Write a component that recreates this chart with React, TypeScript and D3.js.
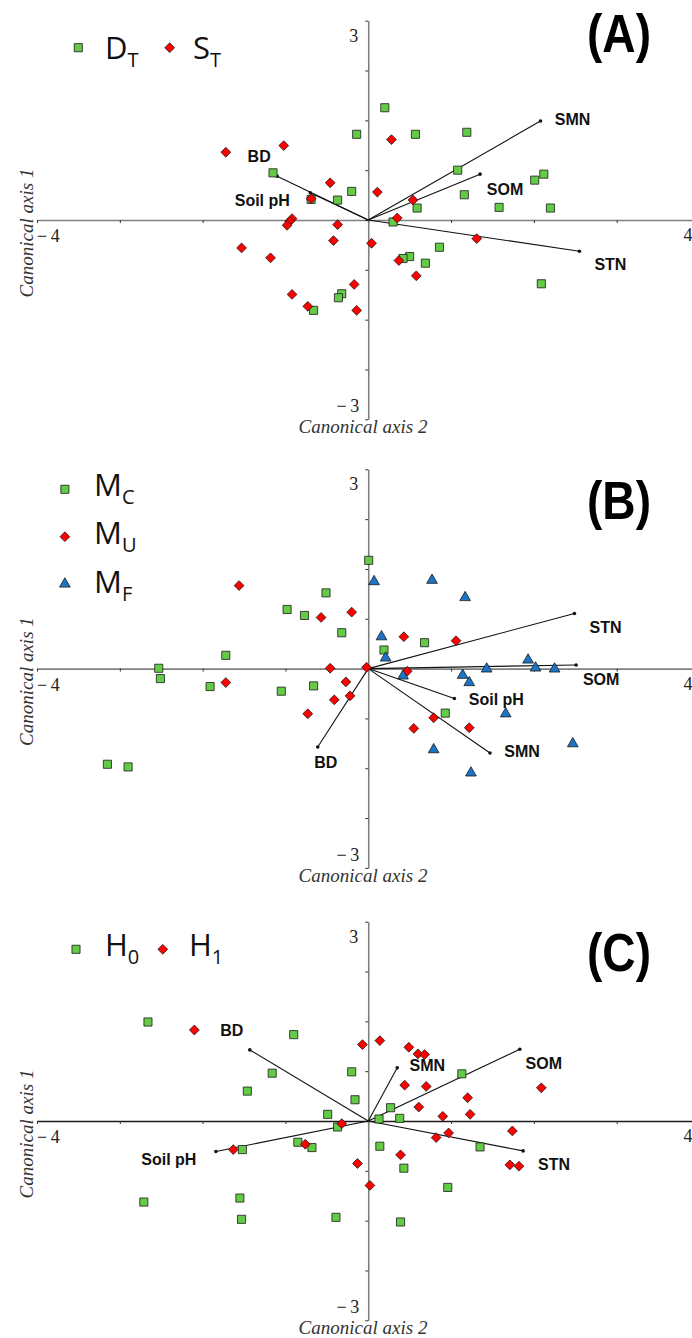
import React, { useEffect, useRef } from "react";
import * as d3 from "d3";

// (A) tillage: D_T vs S_T  — [canonical axis 2, canonical axis 1]
const aDT: [number, number][] = [
  [0.2, 1.69], [-0.14, 1.29], [0.57, 1.29], [1.19, 1.32], [-1.15, 0.71], [1.08, 0.75],
  [2.01, 0.6], [2.12, 0.69], [-0.2, 0.43], [-0.37, 0.3], [-0.69, 0.31], [1.16, 0.38],
  [0.59, 0.18], [1.58, 0.19], [2.2, 0.18], [0.3, -0.03], [0.86, -0.41], [0.5, -0.55],
  [0.42, -0.58], [0.69, -0.65], [2.09, -0.96], [-0.32, -1.11], [-0.36, -1.17], [-0.66, -1.36],
];
const aST: [number, number][] = [
  [-1.72, 1.02], [-1.02, 1.12], [0.28, 1.21], [-0.46, 0.56], [0.11, 0.42], [-0.69, 0.32],
  [0.54, 0.3], [-0.92, 0.02], [-0.95, -0.02], [-0.98, -0.08], [-0.37, -0.07], [0.35, 0.03],
  [-0.42, -0.31], [0.04, -0.35], [1.31, -0.28], [-1.53, -0.42], [-1.18, -0.57], [0.37, -0.61],
  [0.58, -0.84], [-0.17, -0.97], [-0.92, -1.12], [-0.73, -1.3], [-0.14, -1.36],
];
const aVectors = [
  { name: "SMN", x: 2.08, y: 1.49 },
  { name: "SOM", x: 1.35, y: 0.69 },
  { name: "STN", x: 2.55, y: -0.47 },
  { name: "BD", x: -1.1, y: 0.66 },
  { name: "Soil pH", x: -0.7, y: 0.41 },
];

// (B) M_C, M_U, M_F
const bMC: [number, number][] = [
  [0.005, 1.63], [-0.51, 1.14], [-0.98, 0.89], [-0.77, 0.8], [-0.32, 0.54], [0.68, 0.39],
  [0.19, 0.28], [-1.72, 0.2], [-2.53, 0.005], [-2.51, -0.15], [-1.91, -0.27], [-1.05, -0.34],
  [-0.66, -0.26], [0.93, -0.67], [-3.15, -1.44], [-2.9, -1.48],
];
const bMU: [number, number][] = [
  [-1.56, 1.25], [-0.2, 0.85], [-0.57, 0.77], [0.43, 0.48], [1.06, 0.42], [-0.46, 0.005],
  [-0.02, 0.02], [0.47, -0.04], [-1.72, -0.21], [-0.27, -0.2], [-0.41, -0.47], [-0.22, -0.41],
  [-0.73, -0.68], [0.79, -0.74], [0.55, -0.9], [1.22, -0.89],
];
const bMF: [number, number][] = [
  [0.07, 1.31], [0.77, 1.33], [1.17, 1.07], [0.16, 0.48], [0.21, 0.16], [1.93, 0.13],
  [2.02, 0.01], [2.25, -0.005], [1.43, -0.005], [0.42, -0.11], [1.14, -0.1], [1.22, -0.21],
  [1.66, -0.68], [2.47, -1.13], [0.79, -1.22], [1.24, -1.57],
];
const bVectors = [
  { name: "STN", x: 2.49, y: 0.83 },
  { name: "SOM", x: 2.51, y: 0.055 },
  { name: "Soil pH", x: 1.04, y: -0.45 },
  { name: "SMN", x: 1.47, y: -1.27 },
  { name: "BD", x: -0.61, y: -1.18 },
];

// (C) H_0 vs H_1
const cH0: [number, number][] = [
  [-2.66, 1.49], [-0.9, 1.3], [-1.16, 0.72], [-0.2, 0.74], [1.13, 0.71], [-1.46, 0.45],
  [-0.16, 0.32], [0.27, 0.2], [-0.49, 0.1], [0.13, 0.03], [0.38, 0.04], [-0.37, -0.09],
  [-0.85, -0.32], [-0.68, -0.4], [-1.52, -0.43], [0.14, -0.38], [1.35, -0.39], [0.43, -0.71],
  [0.96, -1.0], [-2.71, -1.22], [-1.55, -1.16], [-1.53, -1.48], [-0.39, -1.45], [0.39, -1.52],
];
const cH1: [number, number][] = [
  [-2.1, 1.37], [-0.07, 1.15], [0.14, 1.21], [0.49, 1.11], [0.6, 1.01], [0.68, 1.0],
  [0.44, 0.54], [0.7, 0.52], [2.09, 0.5], [1.2, 0.35], [0.61, 0.21], [0.9, 0.07],
  [1.23, 0.1], [-0.32, -0.04], [1.74, -0.15], [0.97, -0.18], [0.82, -0.25], [-1.63, -0.43],
  [-0.76, -0.35], [0.39, -0.51], [-0.13, -0.64], [1.71, -0.66], [1.82, -0.68], [0.02, -0.97],
];
const cVectors = [
  { name: "BD", x: -1.43, y: 1.07 },
  { name: "SMN", x: 0.35, y: 0.8 },
  { name: "SOM", x: 1.83, y: 1.08 },
  { name: "STN", x: 1.87, y: -0.45 },
  { name: "Soil pH", x: -1.84, y: -0.46 },
];

const xTicks = d3.range(-4, 5);
const yTicks = d3.range(-12, 13, 3).map((v) => v / 4);

const COLORS = { square: "#63cb45", diamond: "#ff0000", triangle: "#1c74c6" };

// layout for each panel (pixel positions)
const panels = [
  {
    tag: "(A)", top: 20.7, tagBaseline: 52, xAxisColor: "#808080",
    series: [{ data: aDT, symbol: "square" }, { data: aST, symbol: "diamond" }],
    vectors: aVectors,
    labelOffset: { SMN: [32, -2], SOM: [25, 15], STN: [31, 13], BD: [-18, -20], "Soil pH": [-48, 8] },
    legend: [
      { symbol: "square", main: "D", sub: "T", mx: 78.3, my: 47.7, tx: 105, ty: 58.5 },
      { symbol: "diamond", main: "S", sub: "T", mx: 169.7, my: 47.7, tx: 193, ty: 58.5 },
    ],
  },
  {
    tag: "(B)", top: 469.3, tagBaseline: 519, xAxisColor: "#808080",
    series: [
      { data: bMC, symbol: "square" },
      { data: bMU, symbol: "diamond" },
      { data: bMF, symbol: "triangle" },
    ],
    vectors: bVectors,
    labelOffset: { STN: [31, 14], SOM: [25, 15], "Soil pH": [42, 1], SMN: [32, -1], BD: [8, 16] },
    legend: [
      { symbol: "square", main: "M", sub: "C", mx: 64.9, my: 489.3, tx: 94, ty: 495.5 },
      { symbol: "diamond", main: "M", sub: "U", mx: 64.9, my: 536.7, tx: 94, ty: 543.5 },
      { symbol: "triangle", main: "M", sub: "F", mx: 64.9, my: 584, tx: 94, ty: 593 },
    ],
  },
  {
    tag: "(C)", top: 921.7, tagBaseline: 971, xAxisColor: "#1a1a1a",
    series: [{ data: cH0, symbol: "square" }, { data: cH1, symbol: "diamond" }],
    vectors: cVectors,
    labelOffset: { BD: [-18, -19], SMN: [30, -2], SOM: [24, 14], STN: [31, 14], "Soil pH": [-47, 8] },
    legend: [
      { symbol: "square", main: "H", sub: "0", mx: 76, my: 949.3, tx: 105, ty: 955.5 },
      { symbol: "diamond", main: "H", sub: "1", mx: 162.8, my: 949.3, tx: 189, ty: 955.5 },
    ],
  },
];

const symbolPaths: Record<string, string> = {
  square: d3.symbol().type(d3.symbolSquare).size(66)() as string,
  diamond: "M0,-4.9L4.9,0L0,4.9L-4.9,0Z",
  triangle: d3.symbol().type(d3.symbolTriangle).size(50)() as string,
};

export default function App() {
  const svgRef = useRef<SVGSVGElement>(null);

  useEffect(() => {
    const svg = d3.select(svgRef.current);
    svg.selectAll("*").remove();

    const serif = "'Liberation Serif', 'Times New Roman', serif";
    const sans = "'Liberation Sans', Arial, sans-serif";

    panels.forEach((p) => {
      const x = d3.scaleLinear().domain([-4, 4]).range([37, 699.5]);
      const y = d3.scaleLinear().domain([-3, 3]).range([p.top + 398.6, p.top]);
      const g = svg.append("g");

      // axes through the origin
      const xa = g
        .append("g")
        .attr("transform", `translate(0,${y(0)})`)
        .call(d3.axisBottom(x).tickValues(xTicks).tickSize(3).tickSizeOuter(0).tickFormat(() => ""));
      xa.select(".domain").attr("stroke", p.xAxisColor).attr("stroke-width", 1.6);
      xa.selectAll(".tick line").attr("stroke", "#333").attr("stroke-width", 1);

      const ya = g
        .append("g")
        .attr("transform", `translate(${x(0)},0)`)
        .call(d3.axisLeft(y).tickValues(yTicks).tickSize(3).tickSizeOuter(0).tickFormat(() => ""));
      ya.select(".domain").attr("stroke", "#808080").attr("stroke-width", 1.6);
      ya.selectAll(".tick line").attr("stroke", "#333").attr("stroke-width", 1);

      // end labels
      const endLabel = (tx: number, ty: number, t: string, anchor: string) =>
        g.append("text").attr("x", tx).attr("y", ty).attr("text-anchor", anchor)
          .attr("font-family", serif).attr("font-size", 18).attr("fill", "#222").text(t);
      endLabel(x(0) - 10, y(3) + 21, "3", "end");
      endLabel(x(0) - 9, y(-3) - 7, "\u2212\u20093", "end");
      endLabel(x(-4), y(0) + 22, "\u2212\u20094", "start");
      endLabel(x(4) - 16, y(0) + 21, "4", "start");

      g.append("text")
        .attr("transform", `translate(33,${y(0) + 13}) rotate(-90)`)
        .attr("text-anchor", "middle")
        .attr("font-family", serif).attr("font-style", "italic").attr("font-size", 19).attr("fill", "#333")
        .text("Canonical axis 1");
      g.append("text")
        .attr("x", 363).attr("y", y(-3) + 14)
        .attr("text-anchor", "middle")
        .attr("font-family", serif).attr("font-style", "italic").attr("font-size", 19).attr("fill", "#333")
        .text("Canonical axis 2");

      // environmental vectors
      const vg = g.append("g");
      vg.selectAll("line").data(p.vectors).join("line")
        .attr("x1", x(0)).attr("y1", y(0))
        .attr("x2", (d) => x(d.x)).attr("y2", (d) => y(d.y))
        .attr("stroke", "#111").attr("stroke-width", 1.1);
      vg.selectAll("circle").data(p.vectors).join("circle")
        .attr("cx", (d) => x(d.x)).attr("cy", (d) => y(d.y)).attr("r", 1.8).attr("fill", "#111");
      vg.selectAll("text").data(p.vectors).join("text")
        .attr("x", (d) => x(d.x) + (p.labelOffset as any)[d.name][0])
        .attr("y", (d) => y(d.y) + (p.labelOffset as any)[d.name][1])
        .attr("text-anchor", "middle").attr("dominant-baseline", "central")
        .attr("font-family", sans).attr("font-weight", "bold").attr("font-size", 16).attr("fill", "#111")
        .text((d) => d.name);

      // sample points
      p.series.forEach((s) => {
        g.append("g").selectAll("path").data(s.data).join("path")
          .attr("transform", (d) => `translate(${x(d[0])},${y(d[1])})`)
          .attr("d", symbolPaths[s.symbol])
          .attr("fill", (COLORS as any)[s.symbol])
          .attr("stroke", "#1a1a1a").attr("stroke-width", 0.8);
      });

      // legend
      p.legend.forEach((l) => {
        g.append("path")
          .attr("transform", `translate(${l.mx},${l.my})`)
          .attr("d", symbolPaths[l.symbol])
          .attr("fill", (COLORS as any)[l.symbol])
          .attr("stroke", "#1a1a1a").attr("stroke-width", 0.8);
        const t = g.append("text").attr("x", l.tx).attr("y", l.ty)
          .attr("font-family", "'Open Sans', 'Noto Sans', sans-serif").attr("font-size", 31).attr("fill", "#111");
        t.append("tspan").text(l.main);
        t.append("tspan").attr("dy", 8).attr("font-size", 20).text(l.sub);
      });

      // panel tag
      g.append("text")
        .attr("x", 651).attr("y", p.tagBaseline)
        .attr("text-anchor", "end")
        .attr("font-family", sans).attr("font-weight", "bold").attr("font-size", 53)
        .attr("textLength", 64).attr("lengthAdjust", "spacingAndGlyphs")
        .attr("fill", "#000")
        .text(p.tag);
    });
  }, []);

  return (
    <svg
      ref={svgRef}
      width={692}
      height={1338}
      style={{ position: "absolute", left: 0, top: 0, background: "#fff" }}
    />
  );
}
